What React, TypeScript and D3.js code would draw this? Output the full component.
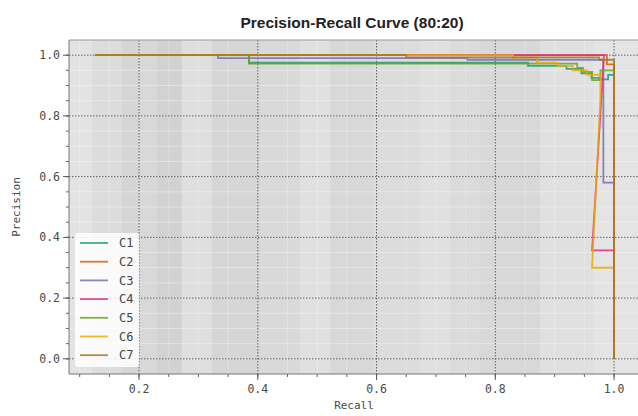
import * as d3 from 'd3';

const width = 638;
const height = 416;
const margin = { left: 69, right: 640, top: 40, bottom: 374 };

const title = 'Precision-Recall Curve (80:20)';
const classNames = ['C1', 'C2', 'C3', 'C4', 'C5', 'C6', 'C7'];
const colors = ['#1b9e77', '#d95f02', '#7570b3', '#e7298a', '#66a61e', '#e6ab02', '#a6761d'];
const xTicks = [0.2, 0.4, 0.6, 0.8, 1.0];
const yTicks = [0.0, 0.2, 0.4, 0.6, 0.8, 1.0];

// [recall, precision] per class
const c1 = [[0.126, 1], [0.385, 1], [0.385, 0.975], [0.855, 0.975], [0.855, 0.965], [0.92, 0.965], [0.92, 0.955], [0.945, 0.955], [0.945, 0.94], [0.962, 0.94], [0.962, 0.925], [0.975, 0.925], [0.975, 0.92], [0.99, 0.92], [0.99, 0.935], [1.0, 0.935]];
const c2 = [[0.126, 1], [0.988, 1], [0.988, 0.97], [1.0, 0.97], [1.0, 0.0]];
const c3 = [[0.126, 1], [0.333, 1], [0.333, 0.99], [0.753, 0.99], [0.753, 0.985], [0.982, 0.985], [0.982, 0.58], [1.0, 0.58]];
const c4 = [[0.126, 1], [0.983, 1], [0.963, 0.357], [1.0, 0.357]];
const c5 = [[0.126, 1], [0.385, 1], [0.385, 0.972], [0.938, 0.972], [0.938, 0.958], [0.948, 0.958], [0.948, 0.945], [0.963, 0.945], [0.963, 0.918], [0.977, 0.918], [0.977, 0.95], [1.0, 0.95]];
const c6 = [[0.126, 1], [0.83, 1], [0.83, 0.992], [0.87, 0.992], [0.87, 0.975], [0.905, 0.975], [0.905, 0.965], [0.93, 0.965], [0.93, 0.95], [0.955, 0.95], [0.955, 0.935], [0.977, 0.935], [0.977, 0.86], [0.963, 0.3], [1.0, 0.3]];
const c7 = [[0.126, 1], [0.65, 1], [0.65, 0.993], [0.975, 0.993], [0.975, 0.985], [1.0, 0.985], [1.0, 0.0]];
const curves = [c1, c2, c3, c4, c5, c6, c7];

// background shading bands: recall where each band starts, and its gray level
const bandStarts = [0.082, 0.121, 0.171, 0.198, 0.23, 0.272, 0.323, 0.404, 0.471, 0.522, 0.594, 0.673, 0.724, 0.774, 0.875, 0.965];
const bandGrays = [227, 220, 213, 216, 210, 223, 214, 217, 224, 216, 220, 224, 219, 216, 224, 228];

const x = d3.scaleLinear().domain([0.082, 1.0437]).range([margin.left, margin.right]);
const y = d3.scaleLinear().domain([-0.05, 1.05]).range([margin.bottom, margin.top]);

const line = d3.line<number[]>().x(d => x(d[0])).y(d => y(d[1]));

const mono = '"DejaVu Sans Mono", monospace';

const App = () => {
  const minorX = d3.range(0.1, 1.05, 0.05).filter(v => x(v) > margin.left);
  const minorY = d3.range(0, 1.05, 0.05);
  const plotW = margin.right - margin.left;
  const plotH = margin.bottom - margin.top;

  return (
    <svg width={width} height={height} style={{ position: 'absolute', left: 0, top: 0, background: '#fff' }}>
      <defs>
        <clipPath id="plot">
          <rect x={margin.left} y={margin.top} width={plotW} height={plotH} />
        </clipPath>
      </defs>
      <rect x={margin.left} y={margin.top} width={plotW} height={plotH} fill="#dcdcdc" />
      {bandStarts.map((b, i) => {
        const end = i < bandStarts.length - 1 ? bandStarts[i + 1] : 1.0437;
        const g = bandGrays[i];
        return <rect key={i} x={x(b)} y={margin.top} width={x(end) - x(b)} height={plotH} fill={`rgb(${g},${g},${g})`} />;
      })}
      {/* minor grid */}
      {minorY.map((v, i) => (
        <line key={'my' + i} x1={margin.left} x2={margin.right} y1={y(v)} y2={y(v)} stroke="#fff" strokeOpacity={0.35} />
      ))}
      {minorX.map((v, i) => (
        <line key={'mx' + i} x1={x(v)} x2={x(v)} y1={margin.top} y2={margin.bottom} stroke="#fff" strokeOpacity={0.25} />
      ))}
      {/* major grid */}
      {yTicks.map(v => (
        <line key={'gy' + v} x1={margin.left} x2={margin.right} y1={y(v)} y2={y(v)} stroke="#444" strokeDasharray="1.5,1.5" strokeOpacity={0.85} />
      ))}
      {xTicks.map(v => (
        <line key={'gx' + v} x1={x(v)} x2={x(v)} y1={margin.top} y2={margin.bottom} stroke="#444" strokeDasharray="1.5,1.5" strokeOpacity={0.85} />
      ))}
      {/* curves */}
      <g clipPath="url(#plot)">
        {curves.map((c, i) => (
          <path key={i} d={line(c) || ''} fill="none" stroke={colors[i]} strokeWidth={1.8} strokeOpacity={0.85} />
        ))}
      </g>
      {/* frame */}
      <line x1={margin.left} x2={margin.right} y1={margin.top} y2={margin.top} stroke="#999" />
      <line x1={margin.left} x2={margin.right} y1={margin.bottom} y2={margin.bottom} stroke="#777" />
      <line x1={margin.left} x2={margin.left} y1={margin.top} y2={margin.bottom} stroke="#777" />
      {/* ticks */}
      {minorY.map((v, i) => (
        <line key={'ty' + i} x1={margin.left - 3} x2={margin.left} y1={y(v)} y2={y(v)} stroke="#666" />
      ))}
      {minorX.map((v, i) => (
        <line key={'tx' + i} x1={x(v)} x2={x(v)} y1={margin.bottom} y2={margin.bottom + 3} stroke="#666" />
      ))}
      {yTicks.map(v => (
        <g key={'yl' + v}>
          <line x1={margin.left - 6} x2={margin.left} y1={y(v)} y2={y(v)} stroke="#555" />
          <text x={margin.left - 9} y={y(v)} dy="0.35em" textAnchor="end" fontFamily={mono} fontSize={11.5} fill="#4a4a4a">
            {v.toFixed(1)}
          </text>
        </g>
      ))}
      {xTicks.map(v => (
        <g key={'xl' + v}>
          <line x1={x(v)} x2={x(v)} y1={margin.bottom} y2={margin.bottom + 6} stroke="#555" />
          <text x={x(v)} y={margin.bottom + 19} textAnchor="middle" fontFamily={mono} fontSize={11.5} fill="#4a4a4a">
            {v.toFixed(1)}
          </text>
        </g>
      ))}
      <text x={354} y={409} textAnchor="middle" fontFamily={mono} fontSize={11} fill="#4a4a4a">Recall</text>
      <text transform={`translate(20,${(margin.top + margin.bottom) / 2}) rotate(-90)`} textAnchor="middle" fontFamily={mono} fontSize={11} fill="#4a4a4a">
        Precision
      </text>
      <text x={352} y={28} textAnchor="middle" fontFamily='"Liberation Sans", Arial, sans-serif' fontWeight="bold" fontSize={15.5} fill="#222">
        {title}
      </text>
      {/* legend */}
      <rect x={75} y={233} width={64} height={134} rx={3} fill="#fff" fillOpacity={0.85} />
      {classNames.map((n, i) => (
        <g key={n} transform={`translate(0,${243 + i * 18.7})`}>
          <line x1={80} x2={108} y1={0} y2={0} stroke={colors[i]} strokeWidth={1.8} strokeOpacity={0.85} />
          <text x={119} y={0} dy="0.35em" fontFamily={mono} fontSize={12} fill="#444">{n}</text>
        </g>
      ))}
    </svg>
  );
};

export default App;
